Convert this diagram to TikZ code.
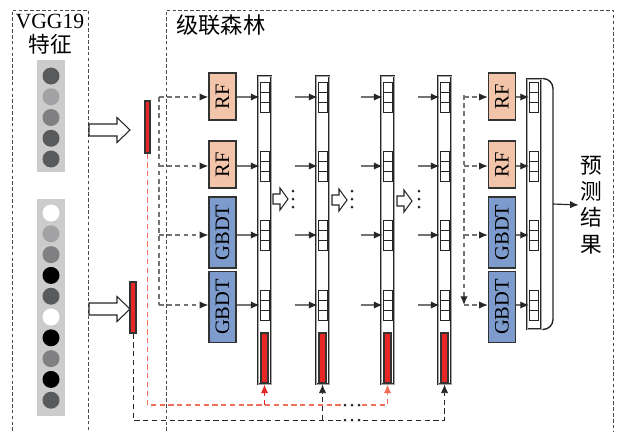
\documentclass[tikz,border=0pt]{standalone}
\usepackage{graphicx}
\usepackage{fontspec}
\setmainfont{Liberation Serif}
\newfontfamily\cjk{Noto Sans CJK SC}
\usetikzlibrary{arrows.meta}

\definecolor{rfcol}{RGB}{242,196,170}
\definecolor{gbcol}{RGB}{125,155,205}
\definecolor{barred}{RGB}{232,38,38}
\definecolor{linered}{RGB}{240,110,90}
\definecolor{veccol}{RGB}{204,204,204}
\definecolor{dotdark}{RGB}{88,90,92}
\definecolor{dotmid}{RGB}{128,128,130}
\definecolor{dotlight}{RGB}{162,162,164}

\begin{document}
\begin{tikzpicture}[x=0.3mm,y=-0.3mm,
  frame/.style={draw=black!70,line width=0.6pt,dash pattern=on 3pt off 2pt},
  title/.style={inner sep=0pt,font=\fontsize{18.5}{20}\selectfont},
  vec/.style={fill=veccol,minimum width=8.4mm,inner sep=0pt},
  dot/.style={circle,minimum size=5.1mm,inner sep=0pt},
  hollow/.style={draw=black!85,fill=white,line width=0.9pt,line join=miter},
  redbar/.style={draw=black!80,fill=barred,line width=0.9pt,inner sep=0pt},
  box/.style={draw=black!80,line width=1.2pt,inner sep=0pt,
    minimum width=8.1mm,font=\fontsize{17.5}{18}\selectfont},
  layer/.style={draw=black!85,double=black!35,double distance=0.8pt,
    line width=0.8pt,fill=white,minimum width=3.9mm,minimum height=92.4mm,
    inner sep=0pt},
  cellstack/.style={draw=black!85,line width=0.8pt,fill=white,inner sep=0pt,
    minimum width=2.7mm,minimum height=9mm,
    path picture={\draw[black!85,line width=0.8pt]
      ([yshift=-3mm]path picture bounding box.north west) --
      ([yshift=-3mm]path picture bounding box.north east)
      ([yshift=3mm]path picture bounding box.south west) --
      ([yshift=3mm]path picture bounding box.south east);}},
  flow/.style={draw=black!55,line width=1pt,
    -{Latex[length=2.6mm,width=2.2mm,color=black!85]}},
  feed/.style={draw=black!55,line width=1pt,dash pattern=on 4pt off 3pt},
  ftip/.style={-{Latex[length=2.6mm,width=2.2mm,color=black!85]}},
  tip/.style={-{Latex[length=2.6mm,width=2.2mm]}},
  rline/.style={draw=linered,line width=1pt,dash pattern=on 4.5pt off 3pt},
  bline/.style={draw=black!85,line width=0.75pt,dash pattern=on 4.5pt off 3pt}]
\useasboundingbox (0,0) rectangle (621,431);
\draw[frame] (12,431) |- (88,10) -- (88,431);
\draw[frame] (166,431) |- (613,10) -- (613,431);
\node[title] (vgg) at (50,21) {VGG19};
\node[title] (feat) at (50,44) {\cjk 特征};
\node[title,anchor=west,font=\fontsize{19}{20}\selectfont] (casc) at (176,25) {\cjk 级联森林};
\node[vec,minimum height=33.6mm] (v1) at (51,116) {};
\node[vec,minimum height=65.1mm] (v2) at (51,307.5) {};
\foreach \c [count=\i from 0] in {dotdark,dotlight,dotmid,dotdark,dotdark}
  \node[dot,fill=\c] (a\i) at (51,76+20.75*\i) {};
\foreach \c [count=\i from 0] in {white,dotlight,dotmid,black,dotdark,white,black,dotmid,black,dotdark}
  \node[dot,fill=\c] (b\i) at (51,213+20.8*\i) {};
\foreach \y in {130,309}
  \draw[hollow] (89,\y-6) -- (117,\y-6) -- (117,\y-12.5) -- (130,\y)
    -- (117,\y+12.5) -- (117,\y+6) -- (89,\y+6) -- cycle;
\node[redbar,minimum width=1.5mm,minimum height=15.6mm] (x1) at (147.5,127) {};
\node[redbar,minimum width=1.8mm,minimum height=15.3mm] (x2) at (133,307.5) {};
\node[box,fill=rfcol,minimum height=14.1mm] (rf1) at (222.5,96.5) {\rotatebox{90}{RF}};
\node[box,fill=rfcol,minimum height=14.1mm] (rf2) at (222.5,164.5) {\rotatebox{90}{RF}};
\node[box,fill=gbcol,minimum height=21.3mm] (gb1) at (222.5,232.5) {\rotatebox{90}{GBDT}};
\node[box,fill=gbcol,minimum height=21.3mm] (gb2) at (222.5,307) {\rotatebox{90}{GBDT}};
\node[box,fill=rfcol,minimum height=14.1mm] (rf3) at (502,96.5) {\rotatebox{90}{RF}};
\node[box,fill=rfcol,minimum height=14.1mm] (rf4) at (502,164.5) {\rotatebox{90}{RF}};
\node[box,fill=gbcol,minimum height=21.3mm] (gb3) at (502,232.5) {\rotatebox{90}{GBDT}};
\node[box,fill=gbcol,minimum height=21.3mm] (gb4) at (502,307) {\rotatebox{90}{GBDT}};
\foreach \x [count=\i] in {264.5,322.5,387.5,444.5} {
  \node[layer] (l\i) at (\x,230) {};
  \node[redbar,minimum width=2.1mm,minimum height=15mm] (r\i) at (\x,358) {};
  \foreach \y [count=\j] in {97,166,235,305}
    \node[cellstack] (s\i\j) at (\x,\y) {};
}
\node[layer,minimum width=4.2mm,minimum height=75mm] (lf) at (534,204) {};
\foreach \y [count=\j] in {97,166,235,305}
  \node[cellstack] (s5\j) at (534,\y) {};
\foreach \x/\y in {273/199,332/200,397/201}
  \draw[hollow] (\x,\y-5) -- (\x+7,\y-5) -- (\x+7,\y-11) -- (\x+15,\y)
    -- (\x+7,\y+11) -- (\x+7,\y+5) -- (\x,\y+5) -- cycle;
\foreach \x in {293,352,419}
  \foreach \y in {191,199,207}
    \fill[black!85] (\x,\y) circle (1.5);
\coordinate (fa) at (159,97);
\coordinate (fb) at (159,305);
\draw[feed] (fa) -- (fb);
\foreach \b [count=\j] in {rf1,rf2,gb1,gb2} {
  \draw[feed,ftip] (fa |- s1\j.west) -- (\b.west |- s1\j.west);
  \draw[flow] (\b.east |- s1\j.west) -- (s1\j.west);
}
\foreach \i/\d in {2/6.9mm,3/6.6mm,4/6.6mm}
  \foreach \j in {1,...,4}
    \draw[flow] ([xshift=-\d]s\i\j.west) -- (s\i\j.west);
\coordinate (ga) at (464,95);
\draw[feed,ftip] (ga) -- (ga |- s54.west);
\foreach \b [count=\j] in {rf3,rf4,gb3,gb4} {
  \draw[feed,ftip] (ga |- s5\j.west) -- (\b.west |- s5\j.west);
  \draw[flow] (\b.east |- s5\j.west) -- (s5\j.west);
}
\coordinate (bm) at (553,204);
\draw[black!85,line width=1.2pt,rounded corners=3mm]
  ([xshift=0.3mm]lf.north east) -| (bm) |- ([xshift=0.3mm]lf.south east);
\node[inner sep=1pt,align=center,font=\fontsize{18.5}{22.5}\selectfont\cjk]
  (res) at (591,205) {预\\测\\结\\果};
\draw[flow,draw=black!85] (bm) -- (res.west);
\coordinate (rj) at (147.5,405);
\coordinate (rg1) at (341,405);
\coordinate (rg2) at (362,405);
\draw[rline] (x1.south) -- (rj) -- (rg1);
\draw[rline,tip] (rg2) -| (l3.south);
\draw[rline,draw=barred,tip] (l1.south |- rj) -- (l1.south);
\coordinate (bj) at (133,420);
\coordinate (bg1) at (341,420);
\coordinate (bg2) at (363,420);
\draw[bline] (x2.south) -- (bj) -- (bg1);
\draw[bline,tip] (bg2) -| (l4.south);
\draw[bline,tip] (l2.south |- bj) -- (l2.south);
\foreach \x in {345,352,359} {
  \fill[black!85] (\x,405) circle (1.5);
  \fill[black!85] (\x,420) circle (1.5);
}
\end{tikzpicture}
\end{document}
